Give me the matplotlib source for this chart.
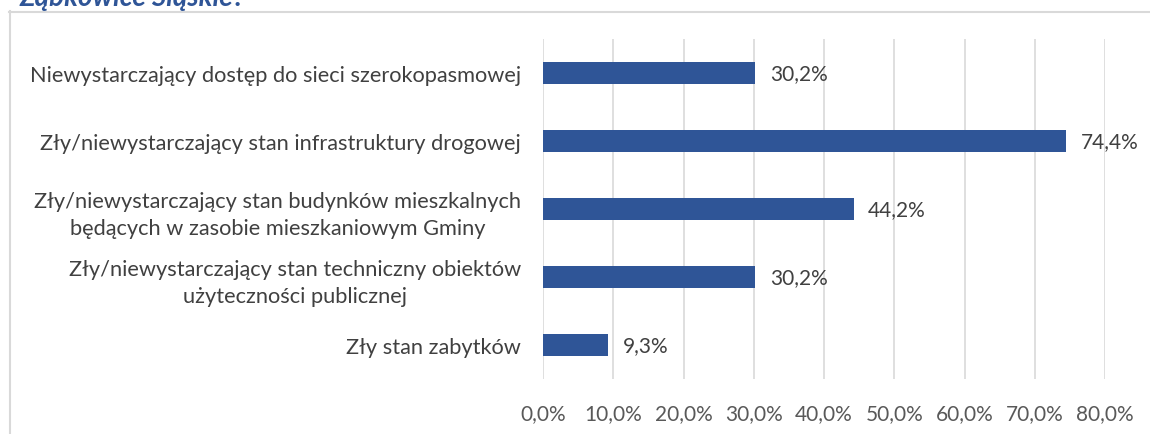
import matplotlib
matplotlib.use("Agg")
import matplotlib.pyplot as plt
from matplotlib.lines import Line2D

categories = [
    "Niewystarczający dostęp do sieci szerokopasmowej",
    "Zły/niewystarczający stan infrastruktury drogowej",
    "Zły/niewystarczający stan budynków mieszkalnych\nbędących w zasobie mieszkaniowym Gminy",
    "Zły/niewystarczający stan techniczny obiektów\nużyteczności publicznej",
    "Zły stan zabytków",
]
values = [30.2, 74.4, 44.2, 30.2, 9.3]
xticks = [0, 10, 20, 30, 40, 50, 60, 70, 80]
title = "Ząbkowice Śląskie?"

W, H = 1150, 435
fig = plt.figure(figsize=(W / 100, H / 100), dpi=100)
plt.rcParams['font.family'] = ['Lato', 'DejaVu Sans']

ax = fig.add_axes([543 / W, 1 - 380 / H, (1105 - 543) / W, (380 - 40) / H])

ypos = list(range(len(categories)))
bar_color = "#2F5597"
ax.barh(ypos, values, height=0.33, color=bar_color, zorder=3)
ax.set_ylim(len(categories) - 0.5, -0.5)
ax.set_xlim(0, 80)
ax.set_xticks(xticks)
ax.set_xticklabels([f"{t:.1f}%".replace(".", ",") for t in xticks],
                   fontsize=15, color="#595959")
ax.set_yticks(ypos)
ax.set_yticklabels(categories, fontsize=15.7, color="#404040", ha="right",
                   multialignment="center", linespacing=1.45)
ax.tick_params(axis="y", length=0, pad=16)
ax.tick_params(axis="x", length=0, pad=17)

ax.grid(axis="x", color="#D9D9D9", linewidth=1.2, zorder=0)
for s in ax.spines.values():
    s.set_visible(False)

for y, v in zip(ypos, values):
    ax.text(v + 2.1, y, f"{v:.1f}%".replace(".", ","), va="center", ha="left",
            fontsize=15, color="#404040")

# border
fig.add_artist(Line2D([9.5 / W, 9.5 / W], [0, 1 - 12 / H], color="#D9D9D9", lw=1.5))
fig.add_artist(Line2D([9 / W, 1], [1 - 12.5 / H, 1 - 12.5 / H], color="#D9D9D9", lw=1.5))

fig.text(20 / W, 1 - 6 / H, title, fontsize=20, fontweight="bold", fontstyle="italic",
         color="#2F5597", va="baseline", ha="left")

fig.savefig("out.png", dpi=100)
